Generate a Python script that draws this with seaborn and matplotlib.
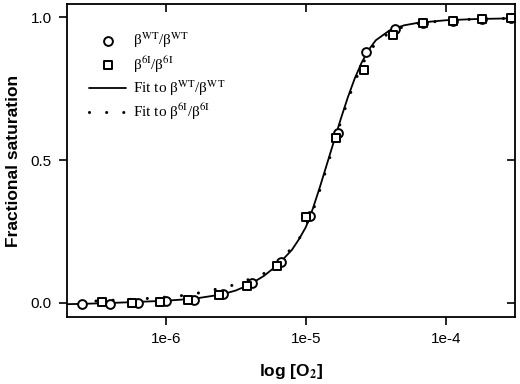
import numpy as np
import pandas as pd
import matplotlib
matplotlib.use("Agg")
import matplotlib.pyplot as plt
import seaborn as sns

# ---- data ----
wt_o2 = [2.50e-7, 4.0e-7, 6.3e-7, 1.0e-6, 1.6e-6, 2.56e-6, 4.1e-6, 6.6e-6,
         1.07e-5, 1.70e-5, 2.70e-5, 4.3e-5, 6.9e-5, 1.12e-4, 1.80e-4, 2.90e-4]
wt_sat = [-0.006, -0.006, -0.002, 0.005, 0.009, 0.030, 0.068, 0.142,
          0.304, 0.595, 0.878, 0.958, 0.979, 0.988, 0.994, 0.997]

m6i_o2 = [3.5e-7, 5.7e-7, 9.0e-7, 1.44e-6, 2.4e-6, 3.8e-6, 6.2e-6, 1.0e-5,
          1.64e-5, 2.6e-5, 4.16e-5, 6.85e-5, 1.12e-4, 1.80e-4, 2.90e-4]
m6i_sat = [0.004, 0.000, 0.002, 0.009, 0.028, 0.060, 0.129, 0.299,
           0.577, 0.816, 0.937, 0.979, 0.988, 0.994, 0.997]

fit_wt_log = [-6.707, -6.6, -6.4, -6.2, -6.0, -5.8, -5.6, -5.5, -5.4, -5.3, -5.2,
              -5.1, -5.05, -5.0, -4.95, -4.9, -4.85, -4.8, -4.75, -4.7, -4.65,
              -4.6, -4.55, -4.5, -4.4, -4.3, -4.2, -4.0, -3.8, -3.507]
fit_wt_sat = [-0.005, -0.004, -0.001, 0.003, 0.007, 0.014, 0.029, 0.043, 0.064,
              0.094, 0.133, 0.185, 0.222, 0.265, 0.330, 0.405, 0.485, 0.565,
              0.645, 0.720, 0.787, 0.843, 0.887, 0.920, 0.955, 0.972, 0.981,
              0.990, 0.994, 0.997]

fit_6i_log = [-6.5, -6.33, -6.09, -5.9, -5.73, -5.5, -5.26, -5.06, -4.95, -4.9,
              -4.85, -4.8, -4.75, -4.7, -4.65, -4.6, -4.55, -4.5, -4.4, -4.3,
              -4.2, -4.0, -3.8, -3.507]
fit_6i_sat = [0.006, 0.010, 0.016, 0.024, 0.037, 0.064, 0.110, 0.212, 0.320,
              0.395, 0.475, 0.555, 0.635, 0.710, 0.775, 0.832, 0.877, 0.910,
              0.948, 0.968, 0.979, 0.989, 0.994, 0.997]

x_ticks = [1e-6, 1e-5, 1e-4]
x_ticklabels = ["1e-6", "1e-5", "1e-4"]
y_ticks = [0.0, 0.5, 1.0]
y_ticklabels = ["0.0", "0.5", "1.0"]

labels = [r"β$^{\rm WT}$/β$^{\rm WT}$", r"β$^{\rm 6I}$/β$^{\rm 6I}$",
          r"Fit to β$^{\rm WT}$/β$^{\rm WT}$", r"Fit to β$^{\rm 6I}$/β$^{\rm 6I}$"]

# ---- styling ----
sns.set_style("ticks")
plt.rcParams["font.family"] = ["Liberation Sans", "DejaVu Sans"]
plt.rcParams["mathtext.fontset"] = "stix"
plt.rcParams["axes.linewidth"] = 1.3
for k in ["text.color", "axes.labelcolor", "xtick.color", "ytick.color", "axes.edgecolor"]:
    plt.rcParams[k] = "black"

df_wt = pd.DataFrame({"o2": wt_o2, "sat": wt_sat})
df_6i = pd.DataFrame({"o2": m6i_o2, "sat": m6i_sat})
df_fwt = pd.DataFrame({"o2": 10 ** np.array(fit_wt_log), "sat": fit_wt_sat})
df_f6i = pd.DataFrame({"o2": 10 ** np.array(fit_6i_log), "sat": fit_6i_sat})

fig = plt.figure(figsize=(5.2, 3.84), dpi=100)
ax = fig.add_axes([0.1288, 0.1745, 0.8612, 0.8151])

sns.lineplot(data=df_fwt, x="o2", y="sat", ax=ax, color="black", lw=1.3,
             label=labels[2], zorder=2)
sns.lineplot(data=df_f6i, x="o2", y="sat", ax=ax, color="black", lw=2.2,
             linestyle=(0, (0.01, 5.6)), dash_capstyle="round",
             label=labels[3], zorder=2)
sns.scatterplot(data=df_wt, x="o2", y="sat", ax=ax, marker="o", s=40,
                facecolor="white", edgecolor="black", linewidth=1.4,
                label=labels[0], zorder=3)
sns.scatterplot(data=df_6i, x="o2", y="sat", ax=ax, marker="s", s=28,
                facecolor="white", edgecolor="black", linewidth=1.4,
                label=labels[1], zorder=3)

ax.set_xscale("log")
ax.set_xlim(10 ** -6.707, 10 ** -3.507)
ax.set_ylim(-0.05, 1.047)
ax.set_xticks(x_ticks)
ax.set_xticklabels(x_ticklabels)
ax.xaxis.set_minor_locator(matplotlib.ticker.NullLocator())
ax.set_yticks(y_ticks)
ax.set_yticklabels(y_ticklabels)
ax.tick_params(axis="both", which="major", direction="out", length=6, width=1.2,
               labelsize=11, colors="black", pad=5)
ax.tick_params(top=True, right=True)
for t in ax.xaxis.get_major_ticks():
    t.tick2line.set_marker(3)  # inward on top
for t in ax.yaxis.get_major_ticks():
    t.tick2line.set_marker(0)  # inward on right
for side in ["top", "right", "left", "bottom"]:
    ax.spines[side].set_visible(True)
    ax.spines[side].set_color("black")

ax.set_xlabel(r"log [O$_\mathbf{2}$]", fontsize=12.5, fontweight="bold", labelpad=11)
ax.set_ylabel("Fractional saturation", fontsize=12.5, fontweight="bold", labelpad=7)

h, l = ax.get_legend_handles_labels()
hd = dict(zip(l, h))
leg = ax.legend([hd[x] for x in labels], labels, loc="upper left",
                bbox_to_anchor=(0.05, 0.915), frameon=False, borderpad=0,
                borderaxespad=0, handlelength=2.4, handletextpad=0.45,
                labelspacing=0.25, prop={"family": "Liberation Serif", "size": 11})

fig.savefig("out.png", dpi=100)
